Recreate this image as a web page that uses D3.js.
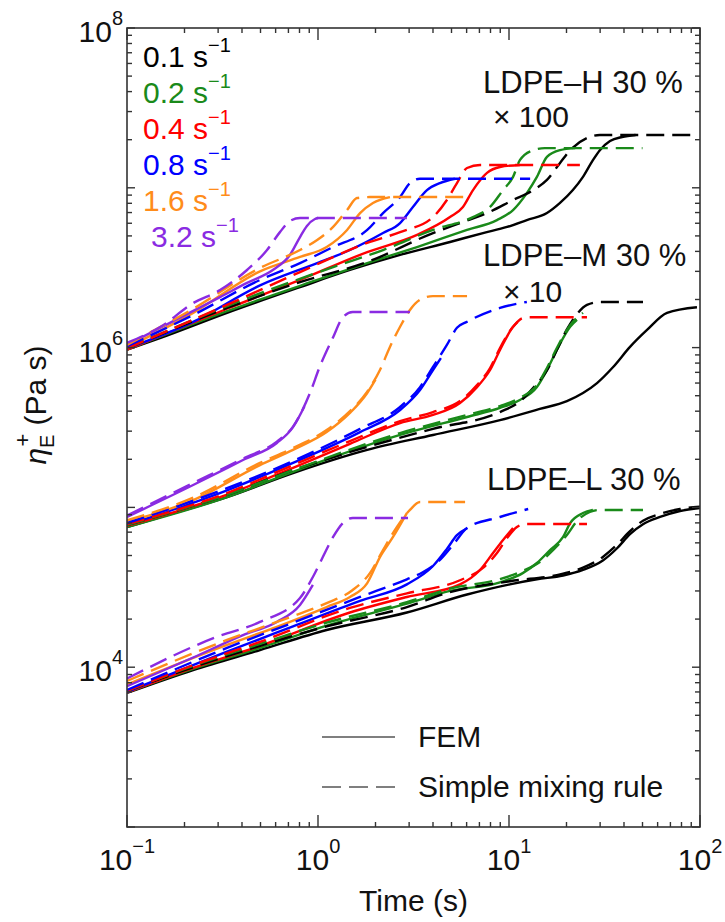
<!DOCTYPE html>
<html>
<head>
<meta charset="utf-8">
<script src="https://cdn.jsdelivr.net/npm/d3@7"></script>
<style>
  body { margin: 0; background: #fff; }
  svg text { font-family: "Liberation Sans", Arial, sans-serif; fill: #111; }
</style>
</head>
<body>
<svg id="chart" width="725" height="922"></svg>
<script>
// Transient elongational viscosity of the LDPE blends (30 %), FEM vs simple mixing rule.
// Each series is a list of [time (s), eta_E+ (Pa s)] pairs, already multiplied by the
// shift factor written next to its group (×100 for H, ×10 for M).

const rates = ["0.1", "0.2", "0.4", "0.8", "1.6", "3.2"];
const rateColors = ["#000000", "#1a8a1a", "#ff0000", "#0000ff", "#ff8c1a", "#8a2be2"];
const groupNames = ["LDPE\u2013H 30 %", "LDPE\u2013M 30 %", "LDPE\u2013L 30 %"];
const groupShifts = ["\u00d7 100", "\u00d7 10", ""];
const xDecades = [-1, 0, 1, 2];
const yLabelDecades = [4, 6, 8];
const legendModels = ["FEM", "Simple mixing rule"];

// ---- LDPE-H 30 % (×100) ----
const H_fem_01 = [[0.1,9.7e5],[0.15,1.15e6],[0.334,1.65e6],[0.805,2.39e6],[1.47,3.06e6],[2.69,3.80e6],[4.91,4.58e6],[7.31,5.21e6],[9.77,5.69e6],[12.4,6.28e6],[15.8,6.95e6],[18.5,8.04e6],[21.6,9.68e6],[24.4,1.17e7],[27.5,1.49e7],[29.9,1.72e7],[33.8,1.96e7],[39.1,2.08e7],[46,2.14e7]];
const H_mix_01 = [[0.1,9.9e5],[0.334,1.77e6],[0.805,2.57e6],[1.81,3.43e6],[4.0,5.21e6],[5.54,6.02e6],[7.67,6.95e6],[10.5,8.39e6],[13.4,9.68e6],[15.8,1.12e7],[18.5,1.43e7],[20.9,1.72e7],[25.6,2.05e7],[29.9,2.14e7],[94,2.14e7]];
const H_fem_02 = [[0.1,9.7e5],[0.334,1.69e6],[0.99,2.65e6],[1.81,3.38e6],[3.30,4.26e6],[6.03,5.45e6],[8.65,6.28e6],[10.5,7.26e6],[12.4,9.27e6],[14.0,1.17e7],[15.8,1.56e7],[18.5,1.72e7],[22.2,1.77e7]];
const H_mix_02 = [[0.1,9.9e5],[0.334,1.82e6],[1.2,3.19e6],[2.19,4.08e6],[4.0,5.45e6],[6.48,6.56e6],[7.96,7.59e6],[9.31,9.68e6],[10.5,1.17e7],[11.4,1.49e7],[13.4,1.72e7],[15.4,1.77e7],[50,1.77e7]];
const H_fem_04 = [[0.1,9.7e5],[0.334,1.75e6],[0.805,2.65e6],[1.81,3.96e6],[3.30,5.07e6],[4.91,6.56e6],[5.74,7.59e6],[6.48,9.68e6],[7.67,1.24e7],[8.97,1.35e7],[11.4,1.39e7]];
const H_mix_04 = [[0.1,9.9e5],[0.334,1.85e6],[0.805,2.97e6],[1.81,4.52e6],[2.69,5.28e6],[4.0,6.56e6],[4.73,8.39e6],[5.34,1.07e7],[6.03,1.33e7],[7.05,1.39e7],[23.5,1.39e7]];
const H_fem_08 = [[0.1,9.9e5],[0.222,1.45e6],[0.497,2.45e6],[0.99,3.38e6],[1.47,4.08e6],[2.19,5.21e6],[2.69,6.02e6],[3.14,7.59e6],[3.72,9.68e6],[4.35,1.07e7],[5.21,1.14e7]];
const H_mix_08 = [[0.1,1.02e6],[0.222,1.6e6],[0.497,2.65e6],[0.805,3.38e6],[1.2,4.26e6],[1.81,5.45e6],[2.19,6.95e6],[2.69,8.75e6],[3.03,1.07e7],[3.42,1.14e7],[12.9,1.14e7]];
const H_fem_16 = [[0.1,1.0e6],[0.222,1.65e6],[0.497,3.0e6],[0.805,3.69e6],[1.11,4.26e6],[1.42,5.45e6],[1.66,6.95e6],[1.94,8.04e6],[2.38,8.75e6]];
const H_mix_16 = [[0.1,1.04e6],[0.222,1.75e6],[0.497,3.15e6],[0.805,4.08e6],[0.99,4.71e6],[1.2,5.69e6],[1.42,7.26e6],[1.60,8.63e6],[1.87,8.75e6],[6.25,8.75e6]];
const H_fem_32 = [[0.1,1.04e6],[0.307,2.07e6],[0.425,2.54e6],[0.58,3.06e6],[0.713,3.80e6],[0.805,4.92e6],[0.875,5.77e6],[0.964,6.38e6],[1.0,6.47e6]];
const H_mix_32 = [[0.1,1.07e6],[0.15,1.35e6],[0.222,1.90e6],[0.307,2.29e6],[0.425,3.06e6],[0.541,4.08e6],[0.632,5.28e6],[0.713,6.2e6],[0.805,6.47e6],[2.92,6.47e6]];

// ---- LDPE-M 30 % (×10) ----
const M_fem_01 = [[0.1,7.54e4],[0.15,8.7e4],[0.334,1.16e5],[0.74,1.64e5],[1.81,2.29e5],[4.0,2.84e5],[8.97,3.52e5],[14.5,4.13e5],[20.1,4.63e5],[24.4,5.20e5],[28.9,6.0e5],[35.1,7.56e5],[43.0,1.01e6],[52.8,1.29e6],[67.2,1.65e6],[96.4,1.79e6]];
const M_mix_01 = [[0.1,7.76e4],[0.334,1.20e5],[0.74,1.71e5],[1.81,2.39e5],[4.0,3.1e5],[8.97,3.95e5],[11.4,4.6e5],[13.4,5.6e5],[15.8,7.2e5],[17.8,9.66e5],[20.1,1.3e6],[22.7,1.62e6],[25.6,1.85e6],[29.9,1.93e6],[50.3,1.93e6]];
const M_fem_02 = [[0.1,7.54e4],[0.334,1.16e5],[0.74,1.67e5],[2.69,2.84e5],[6.03,3.68e5],[8.97,4.19e5],[11.4,4.70e5],[14.0,5.66e5],[15.8,7.24e5],[17.8,9.66e5],[20.9,1.35e6],[22.7,1.49e6]];
const M_mix_02 = [[0.1,7.76e4],[0.334,1.20e5],[0.74,1.71e5],[2.69,2.92e5],[6.03,3.79e5],[8.97,4.31e5],[11.4,4.84e5],[14.0,5.83e5],[15.8,7.45e5],[17.8,9.94e5],[20.9,1.38e6],[24.4,1.65e6]];
const M_fem_04 = [[0.1,7.66e4],[0.334,1.20e5],[0.74,1.77e5],[1.47,2.5e5],[2.69,3.37e5],[4.0,3.79e5],[5.54,4.50e5],[6.8,5.66e5],[7.96,7.24e5],[8.97,9.66e5],[10.5,1.35e6],[11.1,1.45e6]];
const M_mix_04 = [[0.1,7.87e4],[0.334,1.23e5],[0.74,1.84e5],[1.47,2.6e5],[2.69,3.47e5],[4.0,3.95e5],[5.54,4.63e5],[6.8,5.83e5],[7.96,7.45e5],[8.97,9.94e5],[10.5,1.35e6],[11.8,1.53e6],[12.9,1.55e6],[25.6,1.55e6]];
const M_fem_08 = [[0.1,7.76e4],[0.334,1.28e5],[0.74,1.90e5],[1.66,2.96e5],[2.69,4.07e5],[3.42,5.43e5],[4.0,7.24e5],[4.4,8.6e5]];
const M_mix_08 = [[0.1,7.98e4],[0.334,1.32e5],[0.74,1.95e5],[1.66,3.10e5],[2.69,4.25e5],[3.42,5.66e5],[4.0,7.56e5],[4.73,1.04e6],[5.34,1.33e6],[6.03,1.45e6],[8.97,1.77e6],[12.4,1.93e6]];
const M_fem_16 = [[0.1,8.11e4],[0.222,1.11e5],[0.497,1.84e5],[0.74,2.29e5],[1.11,2.96e5],[1.47,3.90e5],[1.81,5.20e5],[2.0,6.3e5]];
const M_mix_16 = [[0.1,8.3e4],[0.222,1.15e5],[0.497,1.9e5],[0.74,2.35e5],[1.11,3.05e5],[1.47,4.0e5],[1.81,5.3e5],[2.11,7.24e5],[2.38,1.01e6],[2.69,1.35e6],[3.03,1.72e6],[3.42,1.99e6],[4.0,2.10e6],[6.03,2.10e6]];
const M_fem_32 = [[0.1,8.71e4],[0.222,1.38e5],[0.405,1.98e5],[0.609,2.53e5],[0.74,3.18e5],[0.85,4.3e5]];
const M_mix_32 = [[0.1,8.9e4],[0.222,1.42e5],[0.405,2.02e5],[0.609,2.58e5],[0.74,3.2e5],[0.908,5.20e5],[1.02,7.56e5],[1.2,1.16e6],[1.35,1.55e6],[1.52,1.67e6],[3.03,1.67e6]];

// ---- LDPE-L 30 % ----
const L_fem_01 = [[0.1,6.9e3],[0.222,9.6e3],[0.497,1.28e4],[1.11,1.71e4],[2.92,2.2e4],[6.03,2.85e4],[10.1,3.3e4],[14.0,3.55e4],[19.2,3.75e4],[24.4,4.06e4],[31.0,4.65e4],[36.8,5.55e4],[43.0,6.8e4],[50.3,7.85e4],[61.8,8.71e4],[78.6,9.49e4],[100,9.91e4]];
const L_mix_01 = [[0.1,7.1e3],[0.222,1.0e4],[0.497,1.36e4],[1.11,1.8e4],[2.92,2.38e4],[4.91,2.95e4],[10.1,3.45e4],[19.2,3.85e4],[24.4,4.2e4],[31.0,4.9e4],[36.8,5.85e4],[43.0,7.1e4],[50.3,8.25e4],[61.8,9.10e4],[78.6,9.77e4],[100,1.01e5]];
const L_fem_02 = [[0.1,6.95e3],[0.222,9.75e3],[0.497,1.32e4],[1.11,1.82e4],[2.92,2.5e4],[4.91,3.0e4],[8.97,3.4e4],[11.8,3.88e4],[14.0,4.49e4],[16.4,5.41e4],[19.2,6.53e4],[20.9,7.98e4],[24.4,9.22e4],[27.5,9.64e4]];
const L_mix_02 = [[0.1,7.1e3],[0.222,1.02e4],[0.497,1.40e4],[1.11,1.9e4],[2.92,2.55e4],[4.91,3.1e4],[8.97,3.56e4],[11.8,4.0e4],[14.5,4.55e4],[17.0,5.41e4],[20.1,6.72e4],[22.7,8.22e4],[26.5,9.36e4],[29.9,9.64e4],[50.3,9.64e4]];
const L_fem_04 = [[0.1,6.95e3],[0.222,9.9e3],[0.497,1.36e4],[1.47,2.2e4],[2.92,2.75e4],[5.54,3.3e4],[7.05,4.06e4],[8.25,5.18e4],[9.31,6.25e4],[10.5,7.43e4]];
const L_mix_04 = [[0.1,7.1e3],[0.222,1.03e4],[0.497,1.44e4],[1.47,2.35e4],[2.92,2.9e4],[5.54,3.5e4],[7.31,4.18e4],[8.65,5.18e4],[9.77,6.43e4],[11.0,7.54e4],[12.1,7.87e4],[25.6,7.87e4]];
const L_fem_08 = [[0.1,7.0e3],[0.334,1.25e4],[0.74,1.8e4],[1.66,2.6e4],[2.92,3.3e4],[4.0,4.3e4],[4.73,5.5e4],[5.34,6.7e4],[6.03,7.4e4]];
const L_mix_08 = [[0.1,7.2e3],[0.334,1.32e4],[0.74,1.9e4],[1.66,2.75e4],[2.92,3.55e4],[3.5,3.9e4],[4.35,4.69e4],[5.09,5.82e4],[6.03,7.43e4],[8.97,8.71e4],[12.6,9.77e4]];
const L_fem_16 = [[0.1,7.8e3],[0.334,1.38e4],[0.609,1.79e4],[1.11,2.38e4],[1.47,2.75e4],[1.81,3.36e4],[2.11,4.89e4],[2.47,6.53e4],[2.92,9.22e4]];
const L_mix_16 = [[0.1,8.2e3],[0.334,1.48e4],[0.609,1.92e4],[1.11,2.52e4],[1.52,3.04e4],[1.87,3.88e4],[2.19,5.41e4],[2.59,7.54e4],[3.03,9.64e4],[3.42,1.08e5],[5.89,1.08e5]];
const L_fem_32 = [[0.1,7.6e3],[0.222,1.15e4],[0.405,1.59e4],[0.609,1.92e4],[0.805,2.45e4],[0.94,3.27e4]];
const L_mix_32 = [[0.1,8.5e3],[0.296,1.55e4],[0.497,1.92e4],[0.805,2.71e4],[0.94,3.67e4],[1.06,4.89e4],[1.2,6.53e4],[1.35,7.98e4],[1.52,8.59e4],[2.96,8.59e4]];

const femSets = [
  [H_fem_01, H_fem_02, H_fem_04, H_fem_08, H_fem_16, H_fem_32],
  [M_fem_01, M_fem_02, M_fem_04, M_fem_08, M_fem_16, M_fem_32],
  [L_fem_01, L_fem_02, L_fem_04, L_fem_08, L_fem_16, L_fem_32]
];
const mixSets = [
  [H_mix_01, H_mix_02, H_mix_04, H_mix_08, H_mix_16, H_mix_32],
  [M_mix_01, M_mix_02, M_mix_04, M_mix_08, M_mix_16, M_mix_32],
  [L_mix_01, L_mix_02, L_mix_04, L_mix_08, L_mix_16, L_mix_32]
];

// ---------------------------------------------------------------
const svg = d3.select("#chart");
const plot = { left: 127, right: 700, top: 28, bottom: 827 };
const FONT = 30;
const DASH = "18,8";

const x = d3.scaleLog().domain([0.1, 100]).range([plot.left, plot.right]);
const y = d3.scaleLog().domain([1e3, 1e8]).range([plot.bottom, plot.top]);

svg.append("defs").append("clipPath").attr("id", "clip")
  .append("rect")
  .attr("x", plot.left).attr("y", plot.top)
  .attr("width", plot.right - plot.left).attr("height", plot.bottom - plot.top);

// series table: solids first, dashed over them
const seriesTable = [];
[femSets, mixSets].forEach((sets, m) => {
  sets.forEach((groupSeries, g) => {
    groupSeries.forEach((pts, r) => {
      seriesTable.push({ model: m, group: g, rate: r, pts });
    });
  });
});

const line = d3.line()
  .x(d => x(d[0]))
  .y(d => y(d[1]))
  .curve(d3.curveMonotoneX);

svg.append("g").attr("clip-path", "url(#clip)")
  .selectAll("path")
  .data(seriesTable)
  .join("path")
  .attr("d", d => line(d.pts))
  .attr("fill", "none")
  .attr("stroke", d => rateColors[d.rate])
  .attr("stroke-width", 2.4)
  .attr("stroke-linejoin", "round")
  .attr("stroke-dasharray", d => d.model === 1 ? DASH : null);

// ---- frame and inward ticks on all four sides ----
const axisColor = "#333";
const axisG = svg.append("g");
axisG.append("rect")
  .attr("x", plot.left).attr("y", plot.top)
  .attr("width", plot.right - plot.left).attr("height", plot.bottom - plot.top)
  .attr("fill", "none").attr("stroke", axisColor).attr("stroke-width", 1.6);

const isMajor = v => Math.abs(Math.log10(v) - Math.round(Math.log10(v))) < 1e-9;

const xTicks = x.ticks();
xTicks.forEach(v => {
  const px = x(v);
  const len = isMajor(v) ? 12 : 5;
  axisG.append("line").attr("x1", px).attr("x2", px)
    .attr("y1", plot.bottom).attr("y2", plot.bottom - len)
    .attr("stroke", axisColor).attr("stroke-width", 1.4);
  axisG.append("line").attr("x1", px).attr("x2", px)
    .attr("y1", plot.top).attr("y2", plot.top + len)
    .attr("stroke", axisColor).attr("stroke-width", 1.4);
});

const yTicks = y.ticks();
yTicks.forEach(v => {
  const py = y(v);
  const len = isMajor(v) ? 8 : 5;
  axisG.append("line").attr("y1", py).attr("y2", py)
    .attr("x1", plot.left).attr("x2", plot.left + len)
    .attr("stroke", axisColor).attr("stroke-width", 1.4);
  axisG.append("line").attr("y1", py).attr("y2", py)
    .attr("x1", plot.right).attr("x2", plot.right - len)
    .attr("stroke", axisColor).attr("stroke-width", 1.4);
});

// tick labels: 10 with superscript exponent
function powerLabel(sel, exp) {
  sel.append("tspan").text("10");
  sel.append("tspan")
    .attr("dy", -17)
    .attr("font-size", 20)
    .text(exp < 0 ? "\u2212" + Math.abs(exp) : String(exp));
}

xDecades.forEach(e => {
  const t = svg.append("text")
    .attr("x", x(Math.pow(10, e)))
    .attr("y", 870)
    .attr("text-anchor", "middle")
    .attr("font-size", FONT);
  powerLabel(t, e);
});

yLabelDecades.forEach(e => {
  const t = svg.append("text")
    .attr("x", 123)
    .attr("y", y(Math.pow(10, e)) + 14)
    .attr("text-anchor", "end")
    .attr("font-size", FONT);
  powerLabel(t, e);
});

// axis titles
svg.append("text")
  .attr("x", (plot.left + plot.right) / 2)
  .attr("y", 911)
  .attr("text-anchor", "middle")
  .attr("font-size", FONT)
  .text("Time (s)");

const yTitle = svg.append("text")
  .attr("transform", "translate(46,405) rotate(-90)")
  .attr("text-anchor", "middle")
  .attr("font-size", FONT);
yTitle.append("tspan").attr("font-style", "italic").text("\u03b7");
yTitle.append("tspan").attr("font-size", 20).attr("dy", 8).text("E");
yTitle.append("tspan").attr("font-size", 22).attr("dx", -12).attr("dy", -24).text("+");
yTitle.append("tspan").attr("dy", 16).text(" (Pa s)");

// ---- rate legend (top left) ----
rates.forEach((r, i) => {
  const t = svg.append("text")
    .attr("x", i === 5 ? 151 : 143)
    .attr("y", 67 + i * 36)
    .attr("font-size", FONT)
    .style("fill", rateColors[i]);
  t.append("tspan").text(r + " s");
  t.append("tspan").attr("dy", -15).attr("font-size", 20).text("\u22121");
});

// ---- group annotations ----
const groupPos = [
  { x: 483, y: 93, sx: 493, sy: 127 },
  { x: 483, y: 266, sx: 503, sy: 302 },
  { x: 487, y: 490, sx: 0, sy: 0 }
];
groupNames.forEach((name, i) => {
  svg.append("text").attr("x", groupPos[i].x).attr("y", groupPos[i].y)
    .attr("font-size", 31).text(name);
  if (groupShifts[i]) {
    svg.append("text").attr("x", groupPos[i].sx).attr("y", groupPos[i].sy)
      .attr("font-size", 30).text(groupShifts[i]);
  }
});

// ---- model legend (bottom right) ----
const legendColor = "#555";
legendModels.forEach((name, i) => {
  const ly = 737 + i * 50;
  svg.append("line")
    .attr("x1", 322).attr("x2", i === 0 ? 395 : 399)
    .attr("y1", ly).attr("y2", ly)
    .attr("stroke", legendColor).attr("stroke-width", 1.6)
    .attr("stroke-dasharray", i === 1 ? "19,8" : null);
  svg.append("text").attr("x", 418).attr("y", ly + 10)
    .attr("font-size", FONT).text(name);
});
</script>
</body>
</html>
